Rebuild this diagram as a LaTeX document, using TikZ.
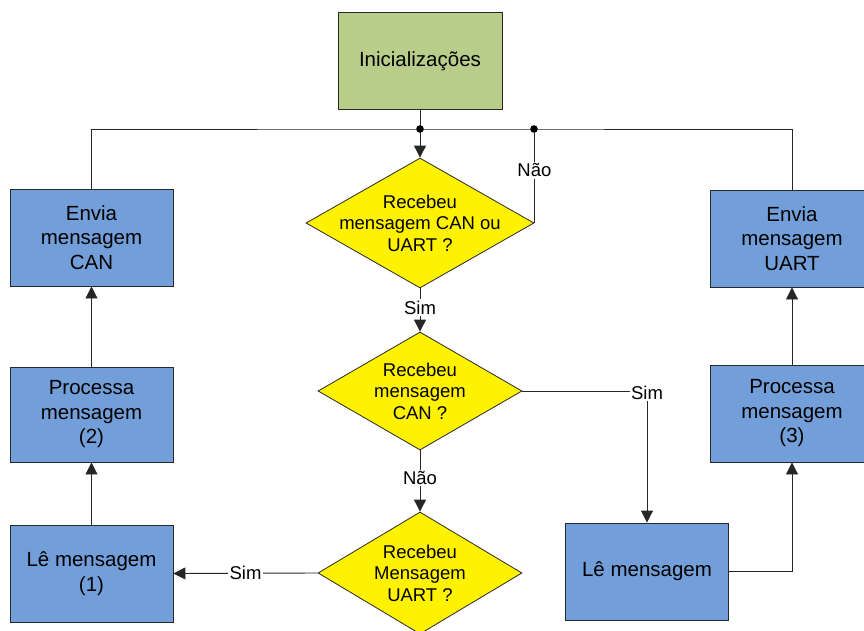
\documentclass[tikz,border=0pt]{standalone}
\usepackage{fontspec}
\setmainfont{Liberation Sans}
\usetikzlibrary{shapes.geometric,arrows.meta}

\definecolor{boxblue}{RGB}{114,159,217}
\definecolor{initgreen}{RGB}{185,205,139}
\definecolor{edgegray}{RGB}{40,40,40}

\tikzset{
  procbox/.style={rectangle, draw=edgegray, line width=0.9pt, fill=boxblue,
    minimum width=163pt, minimum height=97pt, inner sep=0pt, align=center,
    font=\fontsize{20.5}{24.5}\selectfont},
  initbox/.style={procbox, fill=initgreen, minimum width=164pt, minimum height=97pt},
  decision/.style={diamond, draw=edgegray, line width=0.8pt, fill=yellow, inner sep=0pt},
  dectext/.style={align=center, inner sep=0pt, font=\fontsize{18.5}{21.5}\selectfont},
  lbl/.style={fill=white, inner sep=1.5pt, font=\fontsize{18.5}{21}\selectfont},
  conn/.style={draw=black!85, line width=0.9pt},
  flow/.style={conn, -{Triangle[length=12pt,width=12pt]}},
  junction/.style={fill=black, radius=3.8pt}
}

\begin{document}
\begin{tikzpicture}[x=1pt, y=-1pt]
  \useasboundingbox (0,0) rectangle (864,631);

  % start block
  \node[initbox] (ini) at (420,61) {Inicializações};

  % decision chain in the middle column
  \node[decision, minimum width=228pt, minimum height=130pt,
        label={[dectext]center:Recebeu\\mensagem CAN ou\\UART ?}] (d1) at (420,223) {};
  \node[decision, minimum width=204pt, minimum height=118pt,
        label={[dectext]center:Recebeu\\mensagem\\CAN ?}] (d2) at (420,391) {};
  \node[decision, minimum width=204pt, minimum height=122pt,
        label={[dectext]center:Recebeu\\Mensagem\\UART ?}] (d3) at (420,573) {};

  % CAN column (left)
  \node[procbox] (ecan) at (91.5,237.5) {Envia\\mensagem\\CAN};
  \node[procbox, minimum height=95pt] (pm2) at (91.5,414.5) {Processa\\mensagem\\(2)};
  \node[procbox] (le1) at (91.5,573.5) {Lê mensagem\\(1)};

  % UART column (right)
  \node[procbox] (euart) at (792,238.5) {Envia\\mensagem\\UART};
  \node[procbox] (pm3) at (792,413.5) {Processa\\mensagem\\(3)};
  \node[procbox] (le) at (647,571.5) {Lê mensagem};

  % loop-back bus along the top
  \coordinate (jl) at (420,129);
  \coordinate (jr) at (534,129);
  \draw[conn] (ecan.north) |- (jl) -| (euart.north);
  \draw[flow] (ini.south) -- (d1.north);
  \draw[conn] (d1.east) -- node[lbl, pos=0.56] {Não} (d1.east |- jr);
  \fill[junction] (jl) circle;
  \fill[junction] (jr) circle;

  % decisions
  \draw[flow] (d1.south) -- node[lbl, pos=0.44] {Sim} (d2.north);
  \draw[flow] (d2.south) -- node[lbl, pos=0.45] {Não} (d3.north);
  \draw[flow] (d2.east) -| node[lbl, pos=0.5, yshift=-2pt] {Sim} (le.north);
  \draw[flow] (d3.west) -- node[lbl, pos=0.5] {Sim} (le1.east);

  % processing chains
  \draw[flow] (le1.north) -- (pm2.south);
  \draw[flow] (pm2.north) -- (ecan.south);
  \draw[flow] (le.east) -| (pm3.south);
  \draw[flow] (pm3.north) -- (euart.south);
\end{tikzpicture}
\end{document}
